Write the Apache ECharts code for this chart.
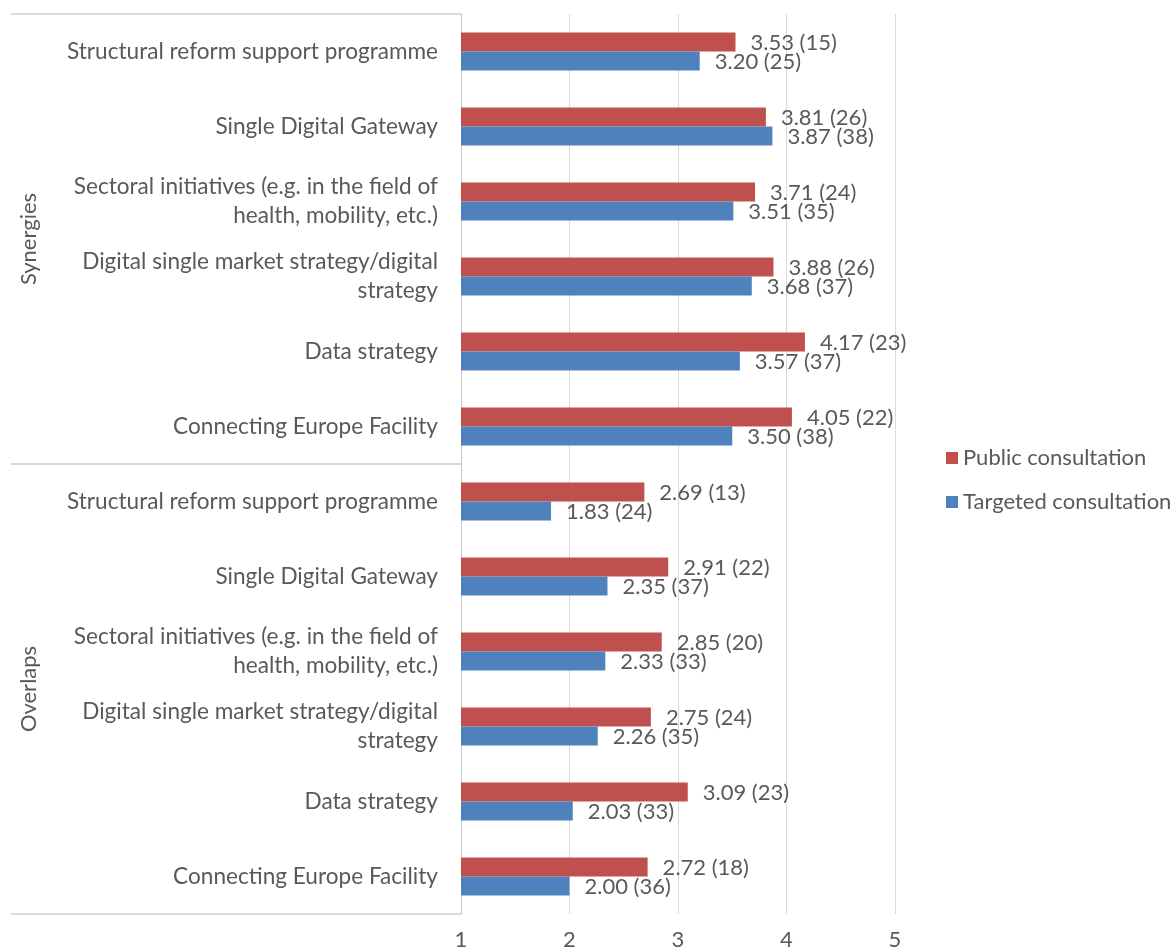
<!DOCTYPE html>
<html>
<head>
<meta charset="utf-8">
<script src="https://cdn.jsdelivr.net/npm/echarts@6/dist/echarts.min.js"></script>
<style>html,body{margin:0;padding:0;background:#fff}#c{width:1176px;height:951px}</style>
</head>
<body>
<div id="c"></div>
<script>
const categories = [
  'Structural reform support programme',
  'Single Digital Gateway',
  'Sectoral initiatives (e.g. in the field of\nhealth, mobility, etc.)',
  'Digital single market strategy/digital\nstrategy',
  'Data strategy',
  'Connecting Europe Facility',
  'Structural reform support programme',
  'Single Digital Gateway',
  'Sectoral initiatives (e.g. in the field of\nhealth, mobility, etc.)',
  'Digital single market strategy/digital\nstrategy',
  'Data strategy',
  'Connecting Europe Facility'
];
const groups = ['Synergies', 'Overlaps'];
const publicValues = [3.53, 3.81, 3.71, 3.88, 4.17, 4.05, 2.69, 2.91, 2.85, 2.75, 3.09, 2.72];
const publicCounts = [15, 26, 24, 26, 23, 22, 13, 22, 20, 24, 23, 18];
const targetedValues = [3.20, 3.87, 3.51, 3.68, 3.57, 3.50, 1.83, 2.35, 2.33, 2.26, 2.03, 2.00];
const targetedCounts = [25, 38, 35, 37, 37, 38, 24, 37, 33, 35, 33, 36];
const xTicks = [1, 2, 3, 4, 5];

const FONT = 'Lato';
const TXT = '#595959';
const chart = echarts.init(document.getElementById('c'));
function lbl(counts, dy) {
  return {
    show: true, position: 'right', distance: 15, offset: [0, dy],
    color: TXT, fontFamily: FONT, fontSize: 22,
    formatter: p => p.value.toFixed(2) + ' (' + counts[p.dataIndex] + ')'
  };
}
chart.setOption({
  animation: false,
  textStyle: { fontFamily: FONT },
  grid: { left: 461, right: 281, top: 14, bottom: 37, containLabel: false },
  legend: {
    orient: 'vertical', left: 941, top: 442,
    itemWidth: 12, itemHeight: 12, itemGap: 22, icon: 'rect',
    data: ['Public consultation', 'Targeted consultation'],
    textStyle: { color: TXT, fontSize: 22, fontFamily: FONT }
  },
  xAxis: {
    type: 'value', min: xTicks[0], max: xTicks[xTicks.length - 1], interval: 1,
    axisLine: { show: false }, axisTick: { show: false },
    splitLine: { lineStyle: { color: '#d9d9d9', width: 1 } },
    axisLabel: { color: TXT, fontSize: 22, fontFamily: FONT, margin: 15 }
  },
  yAxis: [{
    type: 'category', inverse: true, data: categories.map((c, i) => ({ value: i + '|' + c })),
    axisLine: { show: true, lineStyle: { color: '#c8c8c8' } },
    axisTick: { show: false },
    axisLabel: {
      color: TXT, fontSize: 22.6, fontFamily: FONT, margin: 23, lineHeight: 29, align: 'right',
      formatter: v => v.slice(v.indexOf('|') + 1)
    }
  }, {
    type: 'category', inverse: true, data: groups, position: 'left',
    axisLine: { show: false },
    axisTick: { show: true, length: 450, lineStyle: { color: '#d9d9d9', width: 2 } },
    axisLabel: { rotate: 90, margin: 421, color: TXT, fontSize: 22, fontFamily: FONT }
  }],
  series: [{
    name: 'Public consultation', type: 'bar', yAxisIndex: 0,
    data: publicValues, barWidth: 19, barGap: '0%',
    itemStyle: { color: '#C0504D' }, label: lbl(publicCounts, 1)
  }, {
    name: 'Targeted consultation', type: 'bar', yAxisIndex: 0,
    data: targetedValues, barWidth: 19, barGap: '0%',
    itemStyle: { color: '#4F81BD' }, label: lbl(targetedCounts, 1)
  }]
});
</script>
</body>
</html>
